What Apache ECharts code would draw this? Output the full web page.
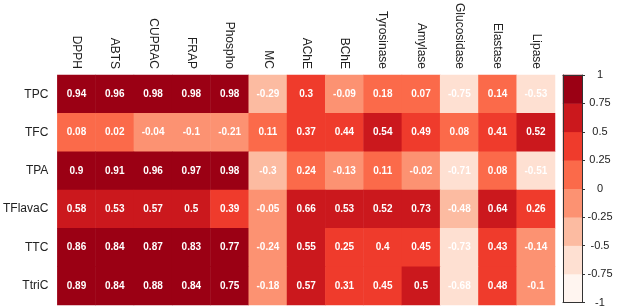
<!DOCTYPE html>
<html>
<head>
<meta charset="utf-8">
<script src="https://cdn.jsdelivr.net/npm/echarts@6/dist/echarts.min.js"></script>
<style>
  html, body { margin: 0; padding: 0; background: #fff; }
  #chart { width: 617px; height: 308px; }
</style>
</head>
<body>
<div id="chart"></div>
<script>
var rows = ['TPC', 'TFC', 'TPA', 'TFlavaC', 'TTC', 'TtriC'];
var cols = ['DPPH', 'ABTS', 'CUPRAC', 'FRAP', 'Phospho', 'MC', 'AChE', 'BChE',
            'Tyrosinase', 'Amylase', 'Glucosidase', 'Elastase', 'Lipase'];
var values = [
  [0.94, 0.96, 0.98, 0.98, 0.98, -0.29, 0.3, -0.09, 0.18, 0.07, -0.75, 0.14, -0.53],
  [0.08, 0.02, -0.04, -0.1, -0.21, 0.11, 0.37, 0.44, 0.54, 0.49, 0.08, 0.41, 0.52],
  [0.9, 0.91, 0.96, 0.97, 0.98, -0.3, 0.24, -0.13, 0.11, -0.02, -0.71, 0.08, -0.51],
  [0.58, 0.53, 0.57, 0.5, 0.39, -0.05, 0.66, 0.53, 0.52, 0.73, -0.48, 0.64, 0.26],
  [0.86, 0.84, 0.87, 0.83, 0.77, -0.24, 0.55, 0.25, 0.4, 0.45, -0.73, 0.43, -0.14],
  [0.89, 0.84, 0.88, 0.84, 0.75, -0.18, 0.57, 0.31, 0.45, 0.5, -0.68, 0.48, -0.1]
];
// colour bins from -1 to 1, step 0.25
var binEdges = [-1, -0.75, -0.5, -0.25, 0, 0.25, 0.5, 0.75, 1];
var binColors = ['#fff5f0', '#fee0d2', '#fcbba1', '#fc9272', '#fb6a4a', '#ef3b2c', '#cb181d', '#9b0014'];

var data = [];
for (var i = 0; i < rows.length; i++) {
  for (var j = 0; j < cols.length; j++) {
    data.push([j, i, values[i][j]]);
  }
}

var pieces = [];
var barData = [];
var barCats = [];
for (var k = 0; k < binColors.length; k++) {
  var p = { gte: binEdges[k], color: binColors[k] };
  if (k === binColors.length - 1) p.lte = binEdges[k + 1]; else p.lt = binEdges[k + 1];
  pieces.push(p);
  barCats.push('b' + k);
  barData.push([0, k, (binEdges[k] + binEdges[k + 1]) / 2]);
}

var font = 'Liberation Sans, Arial, sans-serif';
var frame = { show: true, onZero: false, lineStyle: { color: '#333', width: 1 } };
var chart = echarts.init(document.getElementById('chart'));
chart.setOption({
  animation: false,
  grid: [
    { left: 57, top: 74, width: 498, height: 231 },
    { left: 563, top: 75, width: 19, height: 230 }
  ],
  xAxis: [
    {
      type: 'category', data: cols, position: 'top', gridIndex: 0,
      axisLine: { show: false }, axisTick: { show: false },
      axisLabel: { rotate: 90, interval: 0, margin: 6, fontSize: 12, color: '#222', fontFamily: font }
    },
    {
      type: 'category', data: [''], gridIndex: 1, position: 'bottom', z: 5,
      axisLine: frame, axisTick: { show: false }, axisLabel: { show: false }
    },
    {
      type: 'category', data: [''], gridIndex: 1, position: 'top', z: 5,
      axisLine: frame, axisTick: { show: false }, axisLabel: { show: false }
    }
  ],
  yAxis: [
    {
      type: 'category', data: rows, inverse: true, gridIndex: 0,
      axisLine: { show: false }, axisTick: { show: false },
      axisLabel: { margin: 9, fontSize: 12, color: '#222', fontFamily: font }
    },
    {
      type: 'category', data: barCats, gridIndex: 1, position: 'left', z: 5,
      axisLine: frame, axisTick: { show: false }, axisLabel: { show: false }
    },
    {
      type: 'value', min: -1, max: 1, interval: 0.25, gridIndex: 1, position: 'right', z: 5,
      splitLine: { show: false },
      axisLine: frame,
      axisTick: { show: true, length: 3, lineStyle: { color: '#333' } },
      axisLabel: { align: 'center', margin: 18, fontSize: 11, color: '#222', fontFamily: font }
    }
  ],
  visualMap: {
    type: 'piecewise', show: false, dimension: 2, seriesIndex: [0, 1],
    pieces: pieces
  },
  series: [
    {
      type: 'heatmap', xAxisIndex: 0, yAxisIndex: 0, data: data,
      label: {
        show: true, color: '#fff', fontSize: 10, fontWeight: 'bold', fontFamily: font,
        formatter: function (p) { return String(p.value[2]); }
      }
    },
    {
      type: 'heatmap', xAxisIndex: 1, yAxisIndex: 1, data: barData
    }
  ]
});
</script>
</body>
</html>
